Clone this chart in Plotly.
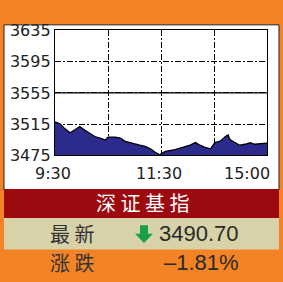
import plotly.graph_objects as go

W, H = 283, 282

# ---- data ----
minutes = [0, 6, 11, 17, 23, 28, 34, 40, 45, 51, 57, 60, 68, 74, 79, 85, 91, 96, 102, 108, 113, 119,
           120, 125, 136, 147, 153, 159, 164, 170, 176, 181, 187, 193, 196, 198, 204, 209, 215, 221,
           226, 232, 238, 240]
index_values = [3518.0, 3515.2, 3509.3, 3504.0, 3508.1, 3512.0, 3507.2, 3502.5, 3499.2, 3497.3, 3494.5,
                3498.5, 3498.5, 3497.3, 3493.3, 3491.4, 3489.3, 3488.1, 3486.6, 3483.4, 3479.4, 3475.6,
                3477.0, 3480.1, 3482.5, 3486.6, 3488.1, 3491.4, 3488.1, 3485.4, 3483.4, 3491.4, 3493.3,
                3499.2, 3501.3, 3495.3, 3491.4, 3488.1, 3489.3, 3491.4, 3489.3, 3490.2, 3490.2, 3490.7]
prev_close = 3555
y_ticks = [3475, 3515, 3555, 3595, 3635]
x_tick_pos = [0, 120, 240]
x_tick_labels = ["9:30", "11:30", "15:00"]
title = "深 证 基 指"
last_label, last_value = "最 新", "3490.70"
chg_label, chg_value = "涨 跌", "–1.81%"

ORANGE = "#F38325"
DARKRED = "#9C0A10"
BEIGE = "#D7D2A8"
NAVY = "#2B2B8C"


def px(x, y):
    return x / W, 1 - y / H


fig = go.Figure()
fig.add_trace(go.Scatter(x=minutes, y=index_values, mode="lines", fill="tozeroy",
                         line=dict(color="black", width=1.3), fillcolor=NAVY,
                         hoverinfo="skip"))

shapes = []
# white panel
x0, y1 = px(4, 17); x1, y0 = px(279, 194)
shapes.append(dict(type="rect", xref="paper", yref="paper", x0=x0, x1=x1, y0=y0, y1=y1,
                   fillcolor="white", line=dict(color="#222", width=1), layer="below"))
# dark red band
x0, y1 = px(4, 193); x1, y0 = px(279, 224)
shapes.append(dict(type="rect", xref="paper", yref="paper", x0=x0, x1=x1, y0=y0, y1=y1,
                   fillcolor=DARKRED, line=dict(width=0), layer="below"))
# beige band
x0, y1 = px(4, 224); x1, y0 = px(279, 258)
shapes.append(dict(type="rect", xref="paper", yref="paper", x0=x0, x1=x1, y0=y0, y1=y1,
                   fillcolor=BEIGE, line=dict(width=0), layer="below"))
# previous close line
shapes.append(dict(type="line", xref="x domain", yref="y", x0=0, x1=1, y0=prev_close, y1=prev_close,
                   line=dict(color="black", width=1.3), layer="above"))
# green down arrow
pts = [(140, 232), (148, 232), (148, 241), (153, 241), (144, 251), (135, 241), (140, 241)]
path = "M " + " L ".join(f"{px(a, b)[0]:.4f},{px(a, b)[1]:.4f}" for a, b in pts) + " Z"
shapes.append(dict(type="path", xref="paper", yref="paper", path=path,
                   fillcolor="#17A04A", line=dict(width=0)))

annotations = []
for pos, lab in zip(x_tick_pos, x_tick_labels):
    anchor, shift = "center", -2
    if pos == x_tick_pos[-1]:
        anchor, shift = "right", 5
    annotations.append(dict(x=pos, y=px(0, 176)[1], xref="x", yref="paper", yanchor="middle",
                            text=lab, showarrow=False, xanchor=anchor, xshift=shift,
                            font=dict(family="DejaVu Sans", size=16, color="#222")))


def txt(x, y, s, size, color, family, anchor="center"):
    xx, yy = px(x, y)
    annotations.append(dict(x=xx, y=yy, xref="paper", yref="paper", text=s, showarrow=False,
                            xanchor=anchor, yanchor="middle",
                            font=dict(family=family, size=size, color=color)))


txt(142, 208, title, 20, "white", "Noto Sans CJK SC")
txt(72, 241, last_label, 20, "#333", "Noto Sans CJK SC")
txt(241, 241, last_value, 22, "#2a2a2a", "Liberation Sans", anchor="right")
txt(72, 272, chg_label, 20, "#333", "Noto Sans CJK SC")
txt(241, 272, chg_value, 22, "#2a2a2a", "Liberation Sans", anchor="right")

dx0, dy1 = px(55, 23)
dx1, dy0 = px(267, 157)

fig.update_layout(
    width=W, height=H, autosize=False,
    margin=dict(l=0, r=0, t=0, b=0),
    paper_bgcolor=ORANGE, plot_bgcolor="white",
    showlegend=False,
    shapes=shapes, annotations=annotations,
    xaxis=dict(domain=[dx0, dx1], range=[0, 240], tickmode="linear", tick0=0, dtick=60,
               showticklabels=False, ticks="", showgrid=True, gridcolor="black", gridwidth=1,
               griddash="6px,2px,2px,2px", zeroline=False, showline=True, linecolor="black",
               linewidth=1.3, mirror=True),
    yaxis=dict(domain=[dy0, dy1], range=[3475, 3635], tickmode="array", tickvals=y_ticks,
               ticktext=[str(v) for v in y_ticks], ticks="", showgrid=True, gridcolor="black",
               gridwidth=1, griddash="6px,2px,2px,2px", zeroline=False, showline=True,
               linecolor="black", linewidth=1.3, mirror=True,
               tickfont=dict(family="DejaVu Sans", size=16, color="#222")),
)

fig.write_html("out.html", config={"displayModeBar": False},
               post_script="document.body.style.margin='0';document.body.style.background='" + ORANGE + "';document.body.style.overflow='hidden';")
